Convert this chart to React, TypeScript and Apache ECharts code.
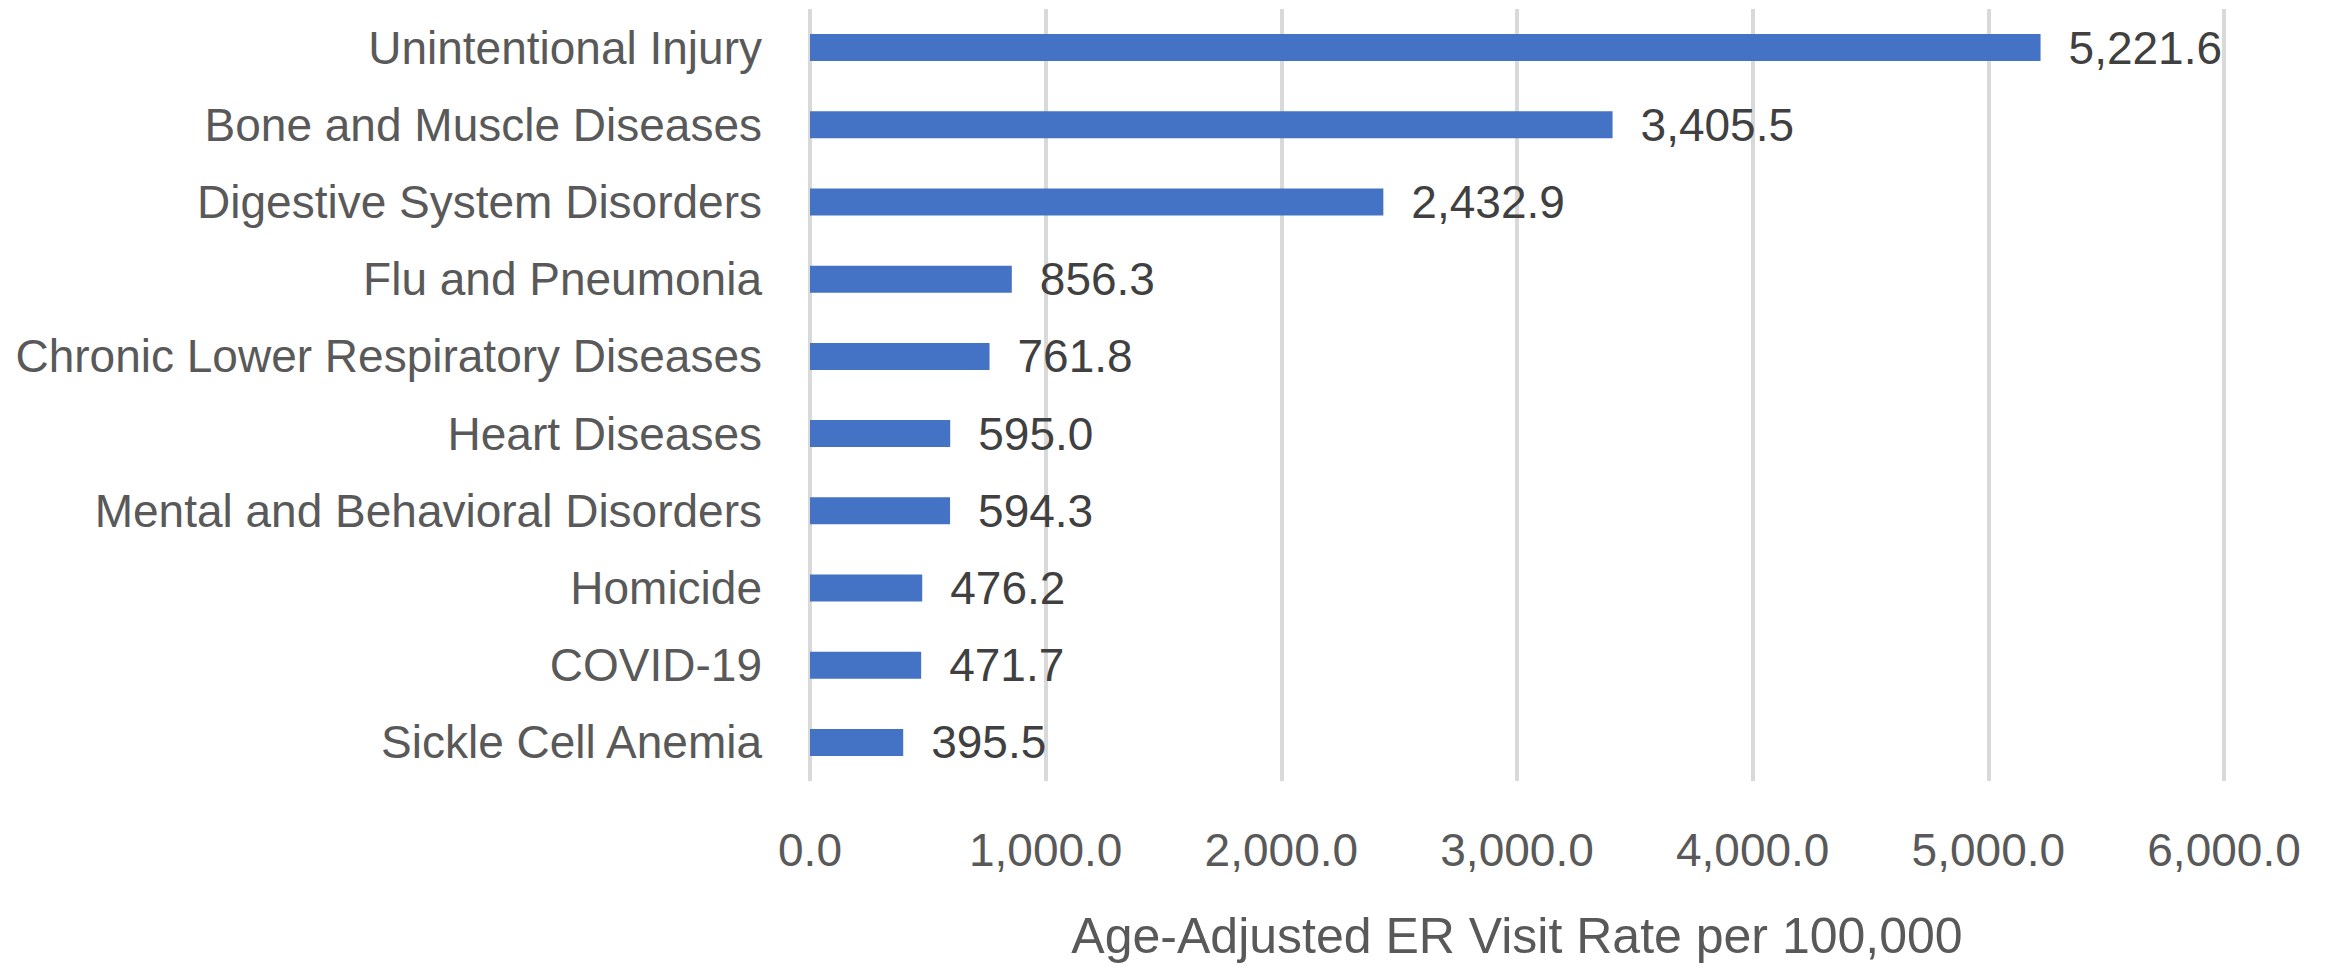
import React, { useEffect, useRef } from "react";
import * as echarts from "echarts";

const categories = [
  "Unintentional Injury",
  "Bone and Muscle Diseases",
  "Digestive System Disorders",
  "Flu and Pneumonia",
  "Chronic Lower Respiratory Diseases",
  "Heart Diseases",
  "Mental and Behavioral Disorders",
  "Homicide",
  "COVID-19",
  "Sickle Cell Anemia",
];
const values = [5221.6, 3405.5, 2432.9, 856.3, 761.8, 595.0, 594.3, 476.2, 471.7, 395.5];
const axisTitle = "Age-Adjusted ER Visit Rate per 100,000";

const fmt = (v: number) =>
  v.toLocaleString("en-US", { minimumFractionDigits: 1, maximumFractionDigits: 1 });

export default function App() {
  const ref = useRef<HTMLDivElement>(null);
  useEffect(() => {
    document.body.style.margin = "0";
    const chart = echarts.init(ref.current!, null, { renderer: "svg" });
    const font = "'Liberation Sans', Arial, sans-serif";
    chart.setOption({
      animation: false,
      backgroundColor: "#ffffff",
      grid: { left: 810, right: 106, top: 9, bottom: 182, containLabel: false },
      xAxis: {
        type: "value",
        min: 0,
        max: 6000,
        interval: 1000,
        axisLine: { show: false },
        axisTick: { show: false },
        splitLine: { show: true, lineStyle: { color: "#D9D9D9", width: 4 } },
        axisLabel: {
          formatter: (v: number) => fmt(v),
          fontFamily: font,
          fontSize: 46,
          color: "#595959",
          margin: 46,
        },
        name: axisTitle,
        nameLocation: "middle",
        nameGap: 130,
        nameTextStyle: { fontFamily: font, fontSize: 50, color: "#595959" },
      },
      yAxis: {
        type: "category",
        data: categories,
        inverse: true,
        axisLine: { show: false },
        axisTick: { show: false },
        splitLine: { show: false },
        axisLabel: {
          fontFamily: font,
          fontSize: 46,
          color: "#595959",
          margin: 48,
        },
      },
      series: [
        {
          type: "bar",
          data: values,
          barWidth: 27,
          itemStyle: { color: "#4472C4" },
          label: {
            show: true,
            position: "right",
            distance: 28,
            formatter: (p: any) => fmt(p.value),
            fontFamily: font,
            fontSize: 46,
            color: "#404040",
          },
        },
      ],
    });
    return () => chart.dispose();
  }, []);
  return <div ref={ref} style={{ width: 2330, height: 966 }} />;
}
